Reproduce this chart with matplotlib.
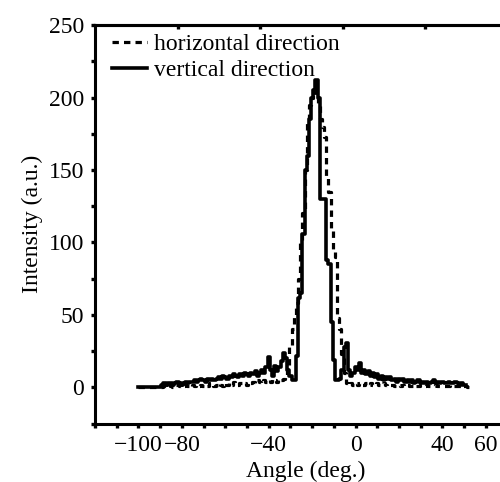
import matplotlib
matplotlib.use("Agg")
import matplotlib.pyplot as plt
import numpy as np

plt.rcParams['font.family'] = ['Liberation Serif', 'DejaVu Serif']

# vertical direction (solid), 1 deg bins
ang_v = np.arange(-100, 52)
int_v = [0, 0, 0, 0, 0, 0, 0, 0, 0, 0, 0,          # -100 .. -90
         2, 3, 2, 3, 3, 2, 3, 4, 3, 2,             # -89 .. -80
         3, 4, 3, 4, 4, 5, 4, 5, 6, 5,             # -79 .. -70
         4, 6, 5, 6, 5, 6, 7, 6, 8, 7,             # -69 .. -60
         6, 8, 7, 9, 8, 7, 9, 8, 10, 9,            # -59 .. -50
         8, 10, 9, 11, 8, 10, 12, 10, 14, 21,      # -49 .. -40
         12, 8, 15, 11, 14, 18, 24, 20, 12, 8,     # -39 .. -30
         5, 5, 22, 62, 65, 106, 150, 160, 185, 200,  # -29 .. -20
         205, 212, 200, 130, 130, 130, 88, 85, 45, 19,  # -19 .. -10
         5, 5, 6, 12, 28, 31, 12, 8, 10, 14,       # -9 .. 0
         12, 17, 10, 12, 9, 11, 8, 10, 7, 9,       # 1 .. 10
         6, 8, 5, 7, 6, 7, 5, 6, 4, 6,             # 11 .. 20
         5, 6, 4, 5, 4, 5, 3, 4, 5, 3,             # 21 .. 30
         4, 3, 4, 3, 4, 5, 3, 4, 3, 4,             # 31 .. 40
         3, 3, 4, 3, 3, 4, 3, 2, 3, 2, 2]          # 41 .. 51

# horizontal direction (dashed)
ang_h = np.arange(-100, 55)
int_h = [0, 0, 0, 0, 0, 0, 0, 0, 0, 0, 0,          # -100 .. -90
         0, 1, 0, 2, 1, 0, 1, 2, 1, 0,             # -89 .. -80
         1, 2, 1, 0, 2, 1, 2, 1, 2, 1,             # -79 .. -70
         2, 1, 3, 2, 1, 2, 3, 2, 1, 3,             # -69 .. -60
         2, 3, 2, 4, 3, 2, 3, 4, 3, 2,             # -59 .. -50
         4, 3, 4, 3, 5, 4, 3, 5, 4, 5,             # -49 .. -40
         4, 6, 5, 4, 6, 5, 6, 8, 15, 28,           # -39 .. -30
         40, 50, 58, 75, 100, 120, 150, 185, 195, 200,  # -29 .. -20
         205, 200, 195, 185, 180, 173, 145, 135, 110, 95,  # -19 .. -10
         90, 48, 40, 23, 10, 3, 2, 3, 2, 3,        # -9 .. 0
         2, 3, 2, 2, 3, 2, 3, 2, 2, 3,             # 1 .. 10
         2, 2, 3, 2, 1, 2, 2, 1, 2, 2,             # 11 .. 20
         1, 2, 1, 2, 1, 1, 2, 1, 1, 2,             # 21 .. 30
         1, 1, 2, 1, 1, 1, 2, 1, 1, 1,             # 31 .. 40
         1, 1, 1, 2, 1, 1, 1, 1, 0, 1,             # 41 .. 50
         1, 0, 0, 0]                               # 51 .. 54

xticks = list(range(-120, 61, 10))
xlabeled = [-100, -80, -40, 0, 40, 60]
yticks = list(range(-25, 251, 25))
ylabeled = [0, 50, 100, 150, 200, 250]
top_ticks = [-82, -44, -6, 32]

fig = plt.figure(figsize=(5.0, 4.82), dpi=100)
ax = fig.add_axes([0.19, 0.121, 0.81, 0.827])

ax.plot(ang_h, int_h, color='black', lw=2.3, ls=(0, (2.0, 1.6)),
        drawstyle='steps-mid', label='horizontal direction')
ax.plot(ang_v, int_v, color='black', lw=2.6, drawstyle='steps-mid',
        label='vertical direction')

ax.set_xlim(-120, 66.5)
ax.set_ylim(-25, 250)

def lab(v, keep):
    return str(v).replace('-', '\u2212') if v in keep else ''

ax.set_xticks(xticks)
ax.set_xticklabels([lab(v, xlabeled) for v in xticks])
ax.set_yticks(yticks)
ax.set_yticklabels([lab(v, ylabeled) for v in yticks])
ax.tick_params(direction='out', length=3, width=2.4, labelsize=17, pad=5)

for s in ['left', 'top', 'bottom']:
    ax.spines[s].set_linewidth(2.2)
ax.spines['right'].set_visible(False)

sec = ax.secondary_xaxis('top')
sec.set_xticks(top_ticks)
sec.set_xticklabels([])
sec.tick_params(direction='in', length=3, width=2.4)
sec.spines['top'].set_linewidth(2.2)

ax.set_xlabel('Angle (deg.)', fontsize=17)
ax.xaxis.set_label_coords(0.52, -0.093)
ax.set_ylabel('Intensity (a.u.)', fontsize=17, labelpad=4)

ax.legend(loc='upper left', bbox_to_anchor=(0.036, 0.985), borderaxespad=0,
          frameon=False, fontsize=17, handlelength=1.5, handletextpad=0.3,
          labelspacing=0.2, borderpad=0.1)

fig.savefig('out.png', dpi=100)
